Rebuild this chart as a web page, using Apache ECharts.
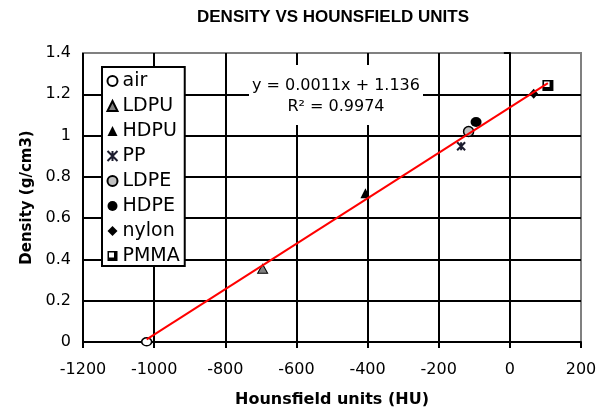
<!DOCTYPE html>
<html>
<head>
<meta charset="utf-8">
<script src="https://cdn.jsdelivr.net/npm/echarts@6/dist/echarts.min.js"></script>
<style>
  html, body { margin: 0; padding: 0; background: #fff; }
  #chart { width: 607px; height: 413px; }
</style>
</head>
<body>
<div id="chart"></div>
<script>
const materials = ['air', 'LDPU', 'HDPU', 'PP', 'LDPE', 'HDPE', 'nylon', 'PMMA']
const hounsfield = [-1021, -695, -406, -137, -116, -95, 67, 107]
const density = [0.001, 0.355, 0.72, 0.948, 1.02, 1.066, 1.203, 1.243]

const trendSlope = 0.0011
const trendIntercept = 1.136
const trendLabel = ['y = 0.0011x + 1.136', 'R² = 0.9974']

const font = 'DejaVu Sans'

const markerStyle = {
  air: { symbol: 'circle', symbolSize: [10, 8], color: '#fff', borderColor: '#000', borderWidth: 1.5 },
  LDPU: { symbol: 'triangle', symbolSize: [10, 9], color: '#808080', borderColor: '#000', borderWidth: 1 },
  HDPU: { symbol: 'triangle', symbolSize: [10, 10], color: '#000', borderColor: '#000', borderWidth: 0 },
  PP: { symbol: 'path://M0,0L10,10M10,0L0,10M5,0L5,10', symbolSize: 8, color: 'none', borderColor: '#1c1c2e', borderWidth: 2 },
  LDPE: { symbol: 'circle', symbolSize: [10, 10], color: '#c0c0c0', borderColor: '#000', borderWidth: 1.5 },
  HDPE: { symbol: 'circle', symbolSize: [11, 10], color: '#000', borderColor: '#000', borderWidth: 0 },
  nylon: { symbol: 'diamond', symbolSize: [9, 10], color: '#000', borderColor: '#000', borderWidth: 0 },
  PMMA: { symbol: 'path://M0,0H10V10H0Z M1.5,1.5V6.5H6.5V1.5Z', symbolSize: [11, 11], color: '#000', borderColor: '#000', borderWidth: 0 }
}

const chart = echarts.init(document.getElementById('chart'))

const xMin = Math.min(...hounsfield)
const xMax = Math.max(...hounsfield)
const trendData = [xMin, xMax].map(x => [x, trendSlope * x + trendIntercept])

const scatterSeries = materials.map((name, i) => {
  const m = markerStyle[name]
  return {
    name,
    type: 'scatter',
    symbol: m.symbol,
    symbolSize: m.symbolSize,
    itemStyle: { color: m.color, borderColor: m.borderColor, borderWidth: m.borderWidth, opacity: 1 },
    emphasis: { disabled: true },
    data: [[hounsfield[i], density[i]]],
    z: 2
  }
})

const axisCommon = {
  axisLine: { show: true, lineStyle: { color: '#000', width: 2 } },
  axisTick: { show: true, inside: false, length: 6, lineStyle: { color: '#000', width: 2 } },
  splitLine: { show: true, showMaxLine: false, lineStyle: { color: '#000', width: 2 } },
  nameTextStyle: { fontFamily: font, fontSize: 16, fontWeight: 'bold', color: '#000' }
}

const option = {
  animation: false,
  backgroundColor: '#fff',
  title: {
    text: 'DENSITY VS HOUNSFIELD UNITS',
    left: 197,
    top: 9,
    padding: 0,
    textStyle: { fontFamily: 'Liberation Sans', fontSize: 17, fontWeight: 'bold', color: '#000' }
  },
  grid: {
    left: 83, right: 26, top: 53, bottom: 71,
    show: true, borderColor: '#808080', borderWidth: 2, backgroundColor: '#fff'
  },
  legend: {
    data: materials,
    orient: 'vertical',
    left: 102,
    top: 67,
    itemWidth: 10,
    itemHeight: 10,
    itemGap: 5,
    itemTextGap: 8,
    padding: [4, 5, 0, 3],
    borderColor: '#000',
    borderWidth: 2,
    backgroundColor: '#fff',
    textStyle: { fontFamily: font, fontSize: 19, lineHeight: 20, color: '#000' }
  },
  xAxis: {
    ...axisCommon,
    type: 'value',
    min: -1200,
    max: 200,
    interval: 200,
    name: 'Hounsfield units (HU)',
    nameLocation: 'middle',
    nameGap: 50,
    axisLabel: { fontFamily: font, fontSize: 16, color: '#000', margin: 20, formatter: v => String(v) }
  },
  yAxis: {
    ...axisCommon,
    type: 'value',
    min: 0,
    max: 1.4,
    interval: 0.2,
    name: 'Density (g/cm3)',
    nameLocation: 'middle',
    nameGap: 40,
    nameTextStyle: { fontFamily: font, fontSize: 15, fontWeight: 'bold', color: '#000' },
    axisLabel: { fontFamily: font, fontSize: 16, color: '#000', margin: 12, formatter: v => String(v) }
  },
  graphic: [{
    type: 'group',
    left: 249,
    top: 65,
    z: 100,
    children: [
      { type: 'rect', z: 100, shape: { x: 0, y: 0, width: 174, height: 60 }, style: { fill: '#fff' } },
      {
        type: 'text', z: 101, x: 87, y: 21,
        style: { text: trendLabel[0], fontFamily: font, fontSize: 16, fill: '#000', align: 'center', verticalAlign: 'middle' }
      },
      {
        type: 'text', z: 101, x: 87, y: 42,
        style: { text: trendLabel[1], fontFamily: font, fontSize: 16, fill: '#000', align: 'center', verticalAlign: 'middle' }
      }
    ]
  }],
  series: [
    ...scatterSeries,
    {
      name: 'trend',
      type: 'line',
      data: trendData,
      showSymbol: false,
      silent: true,
      lineStyle: { color: '#ff0000', width: 2 },
      z: 3
    }
  ]
}

chart.setOption(option)
</script>
</body>
</html>
